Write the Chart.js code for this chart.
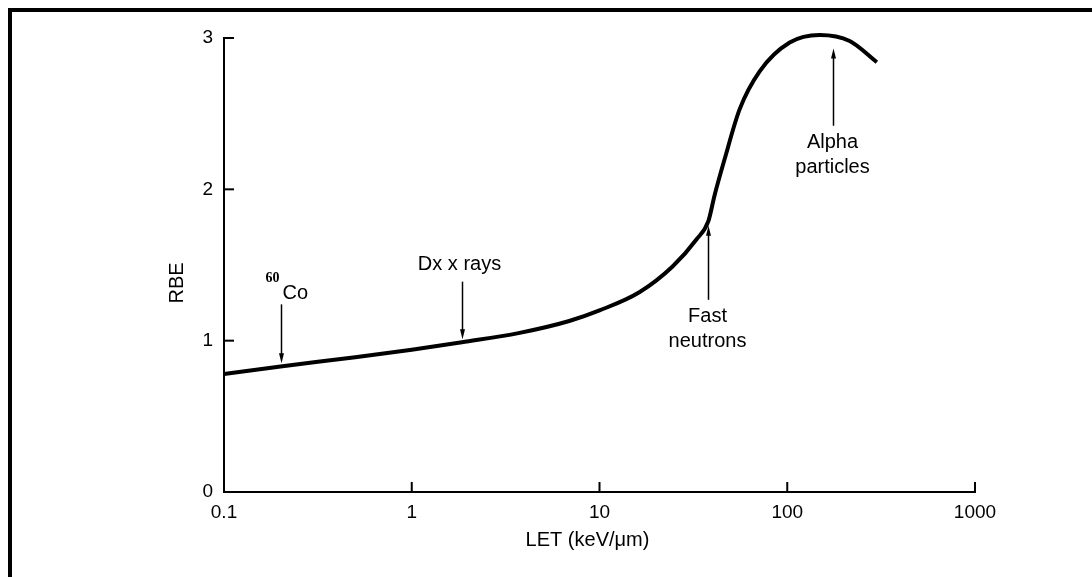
<!DOCTYPE html>
<html>
<head>
<meta charset="utf-8">
<title>RBE vs LET</title>
<script src="https://cdn.jsdelivr.net/npm/chart.js@4.4.1/dist/chart.umd.min.js"></script>
<style>
  html, body { margin: 0; padding: 0; background: #fff; }
  canvas { display: block; }
</style>
</head>
<body>
<canvas id="rbeChart" width="1092" height="577"></canvas>
<script>
// curve: LET (keV/um) vs RBE
const letValues = [0.1, 0.2, 0.5, 1, 1.85, 3.7, 6.9, 10, 16.3, 24.5, 32.9, 38, 41, 46.4, 55.8, 71.3, 103, 149, 215, 300];
const rbeValues = [0.78, 0.83, 0.89, 0.94, 0.99, 1.05, 1.13, 1.20, 1.32, 1.49, 1.67, 1.79, 1.96, 2.20, 2.53, 2.78, 2.97, 3.02, 2.98, 2.84];

const xTickValues = [0.1, 1, 10, 100, 1000];
const yTickValues = [0, 1, 2, 3];

// arrows pointing at the curve
const markerLabels = [['Co'], ['Dx x rays'], ['Fast', 'neutrons'], ['Alpha', 'particles']];
const markerIsotope = ['60', '', '', ''];
const markerLET = [0.2, 1.85, 38, 175];
const markerTipRBE = [0.85, 1.01, 1.76, 2.93];
const markerTailRBE = [1.24, 1.39, 1.27, 2.42];

const FONT = "'Liberation Sans', Arial, Helvetica, sans-serif";

function line(ctx, x1, y1, x2, y2) {
  ctx.beginPath();
  ctx.moveTo(x1, y1);
  ctx.lineTo(x2, y2);
  ctx.stroke();
}

const decorations = {
  id: 'decorations',
  beforeDraw(chart) {
    const ctx = chart.ctx;
    ctx.save();
    ctx.fillStyle = '#fff';
    ctx.fillRect(0, 0, chart.width, chart.height);
    // frame: top and left edge only
    ctx.fillStyle = '#000';
    ctx.fillRect(8, 8, chart.width - 8, 4);
    ctx.fillRect(8, 8, 4, chart.height - 8);
    ctx.restore();
  },
  afterDraw(chart) {
    const { ctx, chartArea } = chart;
    const xs = chart.scales.x;
    const ys = chart.scales.y;
    ctx.save();
    ctx.strokeStyle = '#000';
    ctx.fillStyle = '#000';

    // inward tick marks
    ctx.lineWidth = 2;
    xTickValues.forEach(v => {
      const px = xs.getPixelForValue(v);
      line(ctx, px, chartArea.bottom, px, chartArea.bottom - 10);
    });
    yTickValues.forEach(v => {
      const py = ys.getPixelForValue(v);
      line(ctx, chartArea.left, py, chartArea.left + 10, py);
    });

    // axis titles
    ctx.font = '20px ' + FONT;
    ctx.textAlign = 'center';
    ctx.textBaseline = 'middle';
    ctx.fillText('LET (keV/\u03bcm)', (chartArea.left + chartArea.right) / 2 - 12, 540);
    ctx.save();
    ctx.translate(177, 283);
    ctx.rotate(-Math.PI / 2);
    ctx.fillText('RBE', 0, 0);
    ctx.restore();

    // arrows + labels
    markerLET.forEach((v, i) => {
      const px = Math.round(xs.getPixelForValue(v)) + 0.5;
      const tip = ys.getPixelForValue(markerTipRBE[i]);
      const tail = ys.getPixelForValue(markerTailRBE[i]);
      const dir = tip > tail ? 1 : -1;
      ctx.lineWidth = 1.5;
      line(ctx, px, tail, px, tip - dir * 6);
      ctx.beginPath();
      ctx.moveTo(px, tip);
      ctx.lineTo(px - 2.5, tip - dir * 10);
      ctx.lineTo(px + 2.5, tip - dir * 10);
      ctx.closePath();
      ctx.fill();

      const lines = markerLabels[i];
      ctx.font = '20px ' + FONT;
      ctx.textBaseline = 'alphabetic';
      if (markerIsotope[i]) {
        ctx.textAlign = 'left';
        ctx.fillText(lines[0], px + 1, tail - 5);
        ctx.font = "bold 14px 'Liberation Serif', 'Times New Roman', serif";
        ctx.textAlign = 'right';
        ctx.fillText(markerIsotope[i], px - 2, tail - 22);
      } else if (dir === 1) {
        ctx.textAlign = 'center';
        lines.slice().reverse().forEach((t, k) => ctx.fillText(t, px - 3, tail - 12 - k * 25));
      } else {
        ctx.textAlign = 'center';
        lines.forEach((t, k) => ctx.fillText(t, px - 1, tail + 22 + k * 25));
      }
    });
    ctx.restore();
  }
};

const ctx = document.getElementById('rbeChart').getContext('2d');
new Chart(ctx, {
  type: 'line',
  data: {
    datasets: [{
      data: letValues.map((x, i) => ({ x: x, y: rbeValues[i] })),
      borderColor: '#000',
      borderWidth: 4,
      pointRadius: 0,
      fill: false,
      clip: false,
      cubicInterpolationMode: 'monotone'
    }]
  },
  options: {
    responsive: false,
    animation: false,
    layout: { padding: { top: 38, right: 117, left: 0, bottom: 0 } },
    plugins: {
      legend: { display: false },
      tooltip: { enabled: false }
    },
    scales: {
      x: {
        type: 'logarithmic',
        min: 0.1,
        max: 1000,
        afterBuildTicks: (scale) => { scale.ticks = xTickValues.map(v => ({ value: v })); },
        afterFit: (scale) => { scale.height = 85; },
        grid: { display: false, drawTicks: false },
        border: { display: true, color: '#000', width: 2 },
        ticks: {
          color: '#000',
          font: { family: FONT, size: 19 },
          padding: 9,
          maxRotation: 0,
          autoSkip: false,
          callback: (v) => String(v)
        }
      },
      y: {
        min: 0,
        max: 3,
        afterBuildTicks: (scale) => { scale.ticks = yTickValues.map(v => ({ value: v })); },
        afterFit: (scale) => { scale.width = 224; },
        grid: { display: false, drawTicks: false },
        border: { display: true, color: '#000', width: 2 },
        ticks: {
          color: '#000',
          font: { family: FONT, size: 19 },
          padding: 11,
          callback: (v) => String(v)
        }
      }
    }
  },
  plugins: [decorations]
});
</script>
</body>
</html>
